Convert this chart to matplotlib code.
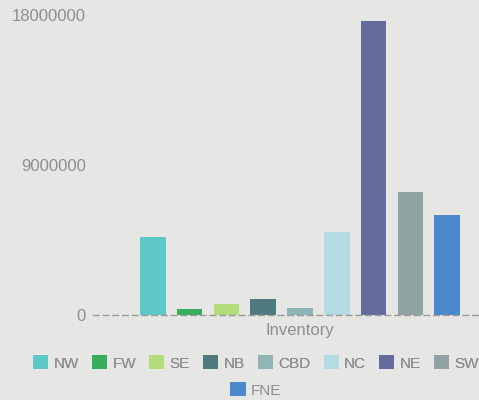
import numpy as np
import matplotlib.pyplot as plt
from matplotlib.patches import Patch

plt.rcParams['font.family'] = ['Liberation Sans', 'DejaVu Sans']

category = ['Inventory']
regions = ['NW', 'FW', 'SE', 'NB', 'CBD', 'NC', 'NE', 'SW', 'FNE']
inventory = [4700000, 340000, 640000, 960000, 400000, 4960000, 17640000, 7400000, 6000000]
colors = ['#5ec7c8', '#35ad5b', '#b3dc7b', '#4f7a7e', '#8fb5b7',
          '#b4dbe3', '#656b9c', '#8fa3a3', '#4c88cc']

BG = '#e6e6e4'
TXT = '#8e8e8e'

fig = plt.figure(figsize=(4.79, 4.00), dpi=100, facecolor=BG)
ax = fig.add_axes([93 / 479, 1 - 315 / 400, 414 / 479, 300 / 400], facecolor=BG)

n = len(regions)
slot = 0.8 / n
for i, (name, val, c) in enumerate(zip(regions, inventory, colors)):
    x = -0.4 + slot * (i + 0.5)
    ax.bar(x, val, width=slot * 0.7, color=c, label=name)

ax.set_xlim(-0.5, 0.5)
ax.set_ylim(0, 18000000)
ax.set_yticks([0, 9000000, 18000000])
ax.set_yticklabels(['0', '9000000', '18000000'])
ax.set_xticks([0])
ax.set_xticklabels(category)
ax.tick_params(axis='both', length=0, colors=TXT, labelsize=12)
ax.tick_params(axis='y', pad=5)
ax.tick_params(axis='x', pad=6)
for s in ['top', 'right', 'left']:
    ax.spines[s].set_visible(False)
ax.spines['bottom'].set_color('#9a9a9a')
ax.spines['bottom'].set_linestyle((0, (4, 3)))
ax.spines['bottom'].set_linewidth(1)

handles = [Patch(facecolor=c, edgecolor='none') for c in colors]
leg_kw = dict(frameon=False, fontsize=11, labelcolor=TXT, handlelength=1.0,
              handleheight=1.0, handletextpad=0.35, columnspacing=0.85,
              borderaxespad=0, borderpad=0)
leg1 = fig.legend(handles[:8], regions[:8], ncol=8, loc='center',
                  bbox_to_anchor=(256 / 479, 1 - 363 / 400), **leg_kw)
fig.add_artist(leg1)
fig.legend(handles[8:], regions[8:], ncol=1, loc='center',
           bbox_to_anchor=(256 / 479, 1 - 390 / 400), **leg_kw)

fig.savefig('out.png', dpi=100, facecolor=BG)
